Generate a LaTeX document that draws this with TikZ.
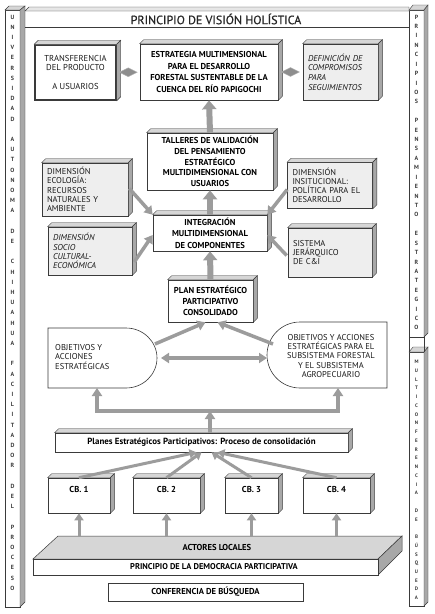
\documentclass[tikz,border=0pt]{standalone}
\usepackage{fontspec}
\setmainfont{PT Sans}
\usetikzlibrary{arrows.meta,shapes.geometric,calc}
\definecolor{arrgray}{HTML}{9C9C9C}
\definecolor{boxgray}{HTML}{EEEEEE}
\definecolor{sidegray}{HTML}{A8A8A8}
\definecolor{topgray}{HTML}{D6D6D6}
\definecolor{linegray}{HTML}{3A3A3A}
\definecolor{dmdgray}{HTML}{8E8E8E}
\newcommand\threed[2][4]{%
  \filldraw[fill=topgray,draw=linegray,line width=0.4pt] (#2.north west) -- ++(#1,-#1) -- ($(#2.north east)+(#1,-#1)$) -- (#2.north east) -- cycle;
  \filldraw[fill=sidegray,draw=linegray,line width=0.4pt] (#2.north east) -- ++(#1,-#1) -- ($(#2.south east)+(#1,-#1)$) -- (#2.south east) -- cycle;}
\begin{document}
\begin{tikzpicture}[x=1pt,y=-1pt,
  box/.style={draw=linegray,line width=0.6pt,fill=white,align=center,inner sep=0pt,font=\bfseries\fontsize{8.6}{11}\selectfont},
  gbox/.style={draw=linegray,line width=0.6pt,fill=boxgray,align=left,inner xsep=5pt,inner ysep=0pt,text=black!90,font=\fontsize{8.5}{9.2}\selectfont},
  txt/.style={inner sep=0pt,align=center,text=black!90,font=\fontsize{8.5}{9.4}\selectfont},
  pl/.style={inner sep=0pt,font=\bfseries\fontsize{6}{6}\selectfont,text=linegray},
  plsmall/.style={inner sep=0pt,font=\bfseries\fontsize{5}{5}\selectfont,text=linegray},
  dmd/.style={diamond,fill=dmdgray,draw=dmdgray!70!white,minimum width=18pt,minimum height=9pt,inner sep=0pt},
  varr/.style={draw=arrgray,line width=6pt,-{Triangle[width=14pt,length=9pt]}},
  darr/.style={draw=arrgray,line width=3.5pt,-{Triangle[width=10pt,length=8pt]}},
  sarr/.style={draw=arrgray,line width=3pt,-{Triangle[width=9pt,length=7pt]}},
  bline/.style={draw=arrgray,line width=3.5pt},
  shp/.style={draw=linegray,line width=0.6pt,fill=white}
]
\useasboundingbox (0,0) rectangle (435,614);
\fill[white] (0,0) rectangle (435,614);

% ---------- left pillar
\filldraw[fill=white,draw=linegray,line width=0.5pt] (5,10) rectangle (20,607);
\filldraw[fill=topgray,draw=linegray,line width=0.4pt] (5,10) -- (9,6) -- (25,6) -- (20,10) -- cycle;
\filldraw[fill=sidegray,draw=linegray,line width=0.4pt] (20,10) -- (25,6) -- (25,602) -- (20,607) -- cycle;
% ---------- right pillars
\filldraw[fill=white,draw=linegray,line width=0.5pt] (409,10) rectangle (424,337);
\filldraw[fill=topgray,draw=linegray,line width=0.4pt] (409,10) -- (413,5) -- (428,5) -- (424,10) -- cycle;
\filldraw[fill=sidegray,draw=linegray,line width=0.4pt] (424,10) -- (428,5) -- (428,333) -- (424,337) -- cycle;
\filldraw[fill=white,draw=linegray,line width=0.5pt] (409,352) rectangle (424,606);
\filldraw[fill=topgray,draw=linegray,line width=0.4pt] (409,352) -- (413,347) -- (428,347) -- (424,352) -- cycle;
\filldraw[fill=sidegray,draw=linegray,line width=0.4pt] (424,352) -- (428,347) -- (428,602) -- (424,606) -- cycle;
\draw[linegray,line width=0.4pt] (409,337) -- (409,352) (424,337) -- (424,352);

% ---------- frame top
\filldraw[fill=topgray!60!white,draw=linegray,line width=0.4pt] (25,11) -- (29,7) -- (409,7) -- (409,11) -- cycle;
\draw[linegray,line width=0.5pt] (25,27) -- (409,27);
\node[inner sep=0pt,font=\fontsize{12}{12}\selectfont\addfontfeature{FakeBold=0.6},text=black!85] (title) at (216,19) {PRINCIPIO DE VISIÓN HOLÍSTICA};

% ---------- pillar letters
\foreach \c [count=\i from 0] in {U,N,I,V,E,R,S,I,D,A,D,{},A,U,T,O,N,O,M,A,{},D,E,{},C,H,I,H,U,A,H,U,A,{},F,A,C,I,L,I,T,A,D,O,R,{},D,E,L,{},P,R,O,C,E,S,O}
  \node[pl] (L\i) at (12.5,{17+\i*10.2}) {\c};
\foreach \c [count=\i from 0] in {P,R,I,N,C,I,P,I,O,S,{},P,E,N,S,A,M,I,E,N,T,O,{},E,S,T,R,A,T,E,G,I,C,O}
  \node[pl] (R\i) at (416.5,{17+\i*9.42}) {\c};
\foreach \c [count=\i from 0] in {M,U,L,T,I,C,O,N,F,E,R,E,N,C,I,A,{},D,E,{},B,Ú,S,Q,U,E,D,A}
  \node[plsmall] (S\i) at (416.5,{362+\i*8.74}) {\c};

% ---------- top row
\node[box,line width=1.5pt,minimum width=81pt,minimum height=55pt,text=black!90,font=\fontsize{8.6}{9.5}\selectfont] (t1) at (75.5,72.5)
  {TRANSFERENCIA\\DEL PRODUCTO\\[9.5pt]A USUARIOS};
\threed{t1}
\node[box,minimum width=138pt,minimum height=56pt,font=\bfseries\fontsize{8.6}{11.6}\selectfont] (est) at (209,72)
  {ESTRATEGIA MULTIMENSIONAL\\PARA EL DESARROLLO\\FORESTAL SUSTENTABLE DE LA\\CUENCA DEL RÍO PAPIGOCHI};
\threed{est}
\node[gbox,text width=65pt,minimum height=56pt,font=\itshape\fontsize{8.5}{9.6}\selectfont] (def) at (340.5,72)
  {DEFINICIÓN DE\\COMPROMISOS\\PARA\\SEGUIMIENTOS};
\threed{def}
\path (t1.east) -- node[dmd] (dm1) {} (est.west);
\path (est.east) -- node[dmd] (dm2) {} (def.west);

% ---------- middle
\node[box,minimum width=126pt,minimum height=57pt,font=\bfseries\fontsize{8.6}{10.8}\selectfont] (tal) at (210,161.5)
  {TALLERES DE VALIDACIÓN\\DEL PENSAMIENTO\\ESTRATÉGICO\\MULTIDIMENSIONAL CON\\USUARIOS};
\threed{tal}
\node[gbox,text width=76pt,minimum height=53pt] (eco) at (85,189.5)
  {DIMENSIÓN\\ECOLOGÍA:\\RECURSOS\\NATURALES Y\\AMBIENTE};
\threed{eco}
\node[gbox,text width=75pt,minimum height=46pt] (ins) at (330,185.5)
  {DIMENSIÓN\\INSITUCIONAL:\\POLÍTICA PARA EL\\DESARROLLO};
\threed{ins}
\node[box,minimum width=114pt,minimum height=36pt,font=\bfseries\fontsize{8.6}{11.5}\selectfont] (int) at (210,233)
  {INTEGRACIÓN\\MULTIDIMENSIONAL\\DE COMPONENTES};
\threed{int}
\node[gbox,text width=74pt,minimum height=48pt,font=\itshape\fontsize{8.5}{9.2}\selectfont] (soc) at (90,251)
  {DIMENSIÓN\\SOCIO\\CULTURAL-\\ECONÓMICA};
\threed{soc}
\node[gbox,text width=74pt,minimum height=49pt] (sis) at (330,252.5)
  {SISTEMA\\JERÁRQUICO\\DE C\&I};
\threed{sis}
\node[box,minimum width=85pt,minimum height=42pt,font=\bfseries\fontsize{8.6}{11}\selectfont] (plan) at (210.5,301)
  {PLAN ESTRATÉGICO\\PARTICIPATIVO\\CONSOLIDADO};
\threed{plan}

% ---------- objective shapes
\filldraw[shp] (48,328) -- (126,328) arc[start angle=-90,end angle=90,x radius=31,y radius=30] -- (48,388) -- cycle;
\node[txt,align=left,anchor=west] (objL) at (55,357) {OBJETIVOS Y\\ACCIONES\\ESTRATÉGICAS};
\filldraw[shp] (387,322) -- (300,322) arc[start angle=-90,end angle=-270,x radius=33,y radius=33] -- (387,388) -- cycle;
\node[txt] (objR) at (331,356) {OBJETIVOS Y ACCIONES\\ESTRATÉGICAS PARA EL\\SUBSISTEMA FORESTAL\\Y EL SUBSISTEMA\\AGROPECUARIO};

% ---------- planes & CB
\node[box,minimum width=293pt,minimum height=19pt,font=\bfseries\fontsize{8.9}{9}\selectfont] (planes) at (201.5,442.5)
  {Planes Estratégicos Participativos: Proceso de consolidación};
\threed{planes}
\foreach \n/\x/\w in {1/79/62,2/166.5/67,3/251.5/53,4/336.5/67}{
  \node[box,minimum width=\w pt,minimum height=35pt] (cb\n) at (\x,495.5) {};
  \threed{cb\n}
  \node[inner sep=0pt,font=\bfseries\fontsize{8.6}{9}\selectfont] (cb\n t) at ($(cb\n.north)+(0,12)$) {CB. \n};
}

% ---------- slab
\filldraw[fill=topgray,draw=linegray,line width=0.5pt] (33,559) -- (58,536) -- (402,536) -- (378,559) -- cycle;
\filldraw[fill=sidegray,draw=linegray,line width=0.5pt] (378,559) -- (402,536) -- (402,551) -- (378,575) -- cycle;
\filldraw[fill=white,draw=linegray,line width=0.5pt] (33,559) rectangle (378,575);
\node[inner sep=0pt,font=\bfseries\fontsize{8.6}{9}\selectfont] (act) at (217,547) {ACTORES LOCALES};
\node[inner sep=0pt,font=\bfseries\fontsize{8.4}{9}\selectfont] (demo) at (214,567) {PRINCIPIO DE LA DEMOCRACIA PARTICIPATIVA};
\coordinate (slabtop) at (0,537);
\node[box,minimum width=195pt,minimum height=18pt,font=\bfseries\fontsize{8.6}{9}\selectfont] (conf) at (205.5,592) {CONFERENCIA DE BÚSQUEDA};

% ---------- arrows
\draw[varr] (tal.north) -- (est.south);
\draw[varr] (int.north) -- (tal.south);
\draw[varr] (plan.north) -- (int.south);
\draw[darr] ($(eco.east)+(1,-1)$) -- (int.north west);
\draw[darr] ($(soc.east)+(2,11)$) -- ($(int.west)+(0,2)$);
\draw[darr] ($(ins.west)+(0,4)$) -- (int.north east);
\draw[darr] ($(sis.west)+(-1,3)$) -- ($(int.east)+(0,2)$);
\coordinate (oLr) at (155,344);
\coordinate (oRl) at (273,344);
\draw[darr] (oLr) -- ($(plan.south)+(-5,0)$);
\draw[darr] (oRl) -- ($(plan.south)+(7,0)$);
\coordinate (dl) at (161,358);
\coordinate (dr) at (267,358);
\draw[draw=arrgray,line width=3.5pt,{Triangle[width=10pt,length=8pt]}-{Triangle[width=10pt,length=8pt]}] (dl) -- (dr);
\coordinate (jl) at (97,411);
\coordinate (jr) at (338,411);
\coordinate (jc) at (210,411);
\coordinate (oLb) at (97,388);
\coordinate (oRb) at (338,388);
\draw[bline] ([xshift=-1.75pt]jl) -- ([xshift=1.75pt]jr);
\draw[darr] (jl) -- (oLb);
\draw[darr] (jr) -- (oRb);
\draw[darr] (planes.north -| jc) -- (jc);
\draw[sarr] (cb1.north) -- ($(planes.south)+(-5,0)$);
\draw[sarr] (cb2.north) -- ($(planes.south)+(0,0)$);
\draw[sarr] (cb3.north) -- ($(planes.south)+(10,0)$);
\draw[sarr] (cb4.north) -- ($(planes.south)+(16,0)$);
\foreach \n in {1,2,3,4}
  \draw[sarr] (cb\n.south |- slabtop) -- (cb\n.south);
\end{tikzpicture}
\end{document}
